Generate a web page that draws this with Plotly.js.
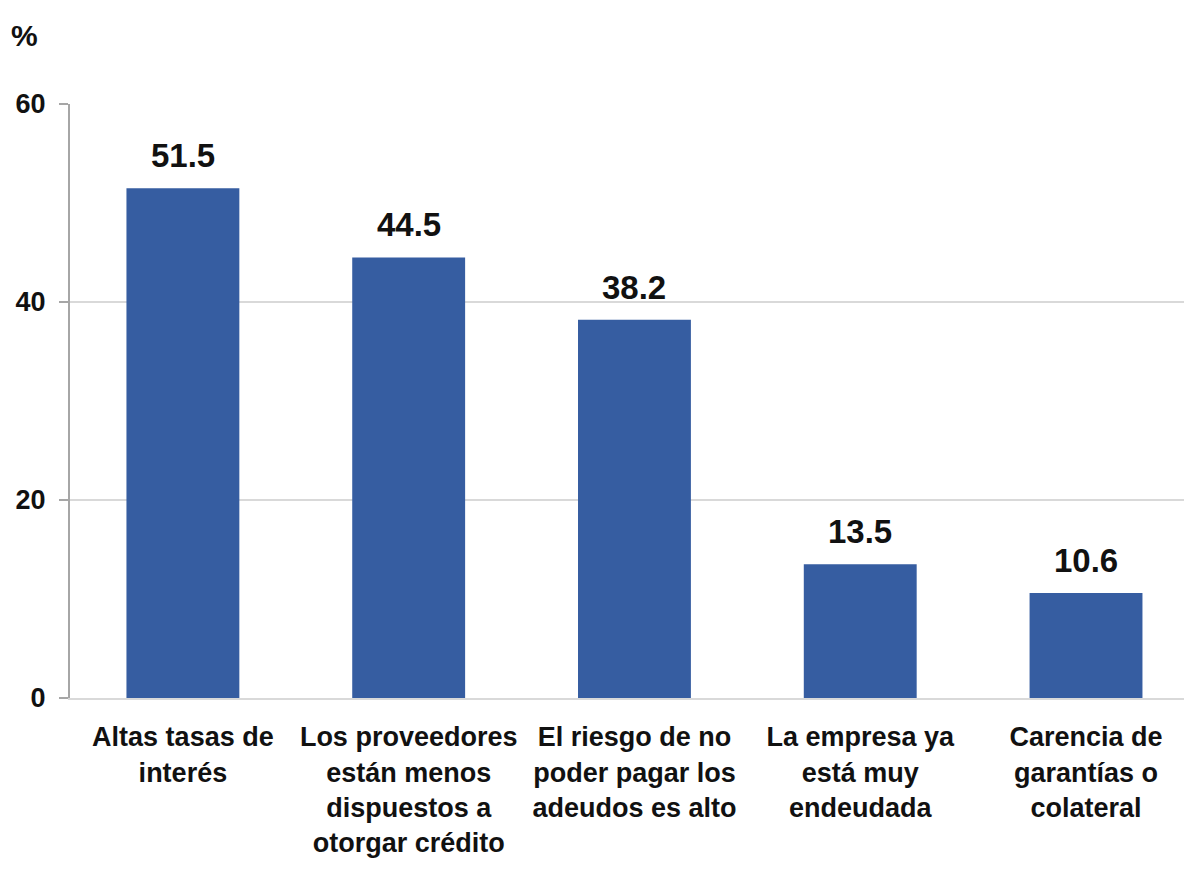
<!DOCTYPE html>
<html>
<head>
<meta charset="utf-8">
<script src="https://cdn.plot.ly/plotly-3.0.1.min.js"></script>
<style>
  html, body { margin: 0; padding: 0; background: #fff; overflow: hidden; }
  #chart { width: 1184px; height: 873px; }
</style>
</head>
<body>
<div id="chart"></div>
<script>
const categories = [
  "Altas tasas de<br>interés",
  "Los proveedores<br>están menos<br>dispuestos a<br>otorgar crédito",
  "El riesgo de no<br>poder pagar los<br>adeudos es alto",
  "La empresa ya<br>está muy<br>endeudada",
  "Carencia de<br>garantías o<br>colateral"
];
const values = [51.5, 44.5, 38.2, 13.5, 10.6];
const valueLabels = ["51.5", "44.5", "38.2", "13.5", "10.6"];
const yTicks = [0, 20, 40, 60];
const yUnit = "%";

const FONT = '"Liberation Sans", Arial, sans-serif';
const TEXT = '#111111';

const trace = {
  type: 'bar',
  x: categories,
  y: values,
  width: 0.5,
  marker: { color: '#365DA1', line: { width: 0 } },
  hoverinfo: 'skip'
};

const annotations = categories.map((c, i) => ({
  x: c, y: values[i], xref: 'x', yref: 'y',
  text: '<b>' + valueLabels[i] + '</b>',
  showarrow: false, yanchor: 'bottom', yshift: 12,
  font: { family: FONT, size: 33, color: TEXT }
}));
annotations.push({
  xref: 'paper', yref: 'paper', x: -0.055, y: 1.085,
  xanchor: 'left', yanchor: 'bottom',
  text: '<b>' + yUnit + '</b>', showarrow: false,
  font: { family: FONT, size: 30, color: TEXT }
});

const layout = {
  width: 1184, height: 873,
  margin: { l: 70, r: 0, t: 104, b: 175, pad: 0 },
  paper_bgcolor: '#ffffff', plot_bgcolor: '#ffffff',
  showlegend: false,
  font: { family: FONT, color: TEXT },
  xaxis: {
    type: 'category',
    range: [-0.5, 4.434],
    showgrid: false,
    showline: true, linecolor: '#d9d9d9', linewidth: 2,
    ticks: '', tickangle: 0, automargin: false,
    ticklabelstandoff: 14,
    tickfont: { family: FONT, size: 27, color: TEXT, weight: 'bold' },
    fixedrange: true
  },
  yaxis: {
    range: [0, 60],
    tickvals: yTicks,
    ticktext: yTicks.map(String),
    showgrid: true, gridcolor: '#d9d9d9', gridwidth: 2,
    showline: true, linecolor: '#a6a6a6', linewidth: 2,
    ticks: 'outside', ticklen: 9, tickcolor: '#a6a6a6', tickwidth: 2,
    ticklabelstandoff: 8,
    tickfont: { family: FONT, size: 27, color: TEXT, weight: 'bold' },
    zeroline: false, automargin: false,
    fixedrange: true
  },
  annotations: annotations
};

Plotly.newPlot('chart', [trace], layout, { displayModeBar: false, staticPlot: true });
</script>
</body>
</html>
